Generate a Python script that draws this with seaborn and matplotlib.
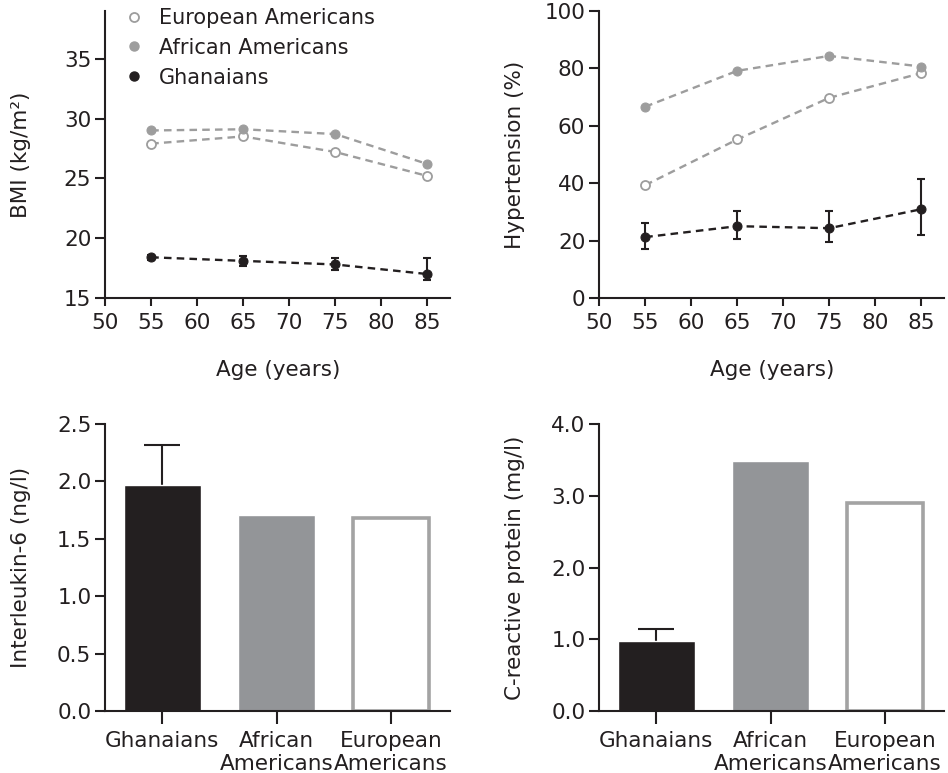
import numpy as np
import seaborn as sns
import matplotlib.pyplot as plt
from matplotlib.lines import Line2D

# data
ages = [55, 65, 75, 85]
groups = ["Ghanaians", "African\nAmericans", "European\nAmericans"]

bmi_european = [27.9, 28.5, 27.2, 25.2]
bmi_african = [29.0, 29.1, 28.7, 26.2]
bmi_ghana = [18.4, 18.1, 17.8, 17.0]
bmi_ghana_lo = [0.2, 0.4, 0.5, 0.5]
bmi_ghana_hi = [0.2, 0.4, 0.5, 1.3]

htn_european = [39.3, 55.2, 69.7, 78.3]
htn_african = [66.6, 79.1, 84.3, 80.6]
htn_ghana = [21.2, 25.0, 24.3, 30.9]
htn_ghana_lo = [4.1, 4.5, 4.9, 8.9]
htn_ghana_hi = [5.0, 5.3, 6.0, 10.5]

il6 = [1.97, 1.71, 1.68]
il6_err = [0.35, 0, 0]
crp = [0.98, 3.49, 2.90]
crp_err = [0.16, 0, 0]

dark = "#231f20"
grey_line = "#9d9d9d"
grey_bar = "#939598"

sns.set_style("ticks")
plt.rcParams["font.family"] = ["DejaVu Sans"]
plt.rcParams.update({
    "font.size": 15.5,
    "text.color": dark,
    "axes.labelcolor": dark,
    "axes.edgecolor": dark,
    "axes.linewidth": 1.5,
    "xtick.color": dark,
    "ytick.color": dark,
    "xtick.labelsize": 15.5,
    "ytick.labelsize": 15.5,
    "xtick.major.width": 1.5,
    "ytick.major.width": 1.5,
    "xtick.major.size": 6,
    "ytick.major.size": 7,
    "xtick.major.pad": 5,
    "ytick.major.pad": 3,
})

fig, axes = plt.subplots(2, 2, figsize=(9.48, 7.73), dpi=100)
plt.subplots_adjust(left=0.111, right=0.996, top=0.986, bottom=0.080, wspace=0.432, hspace=0.439)

dash = (0, (3.2, 2.2))


def line_panel(ax, eu, af, gh, lo, hi):
    sns.lineplot(x=ages, y=eu, ax=ax, color=grey_line, linestyle=dash, lw=1.7, marker="o",
                 markersize=6.5, markerfacecolor="white", markeredgecolor=grey_line, markeredgewidth=1.3)
    sns.lineplot(x=ages, y=af, ax=ax, color=grey_line, linestyle=dash, lw=1.7, marker="o",
                 markersize=6.5, markerfacecolor=grey_line, markeredgecolor=grey_line)
    sns.lineplot(x=ages, y=gh, ax=ax, color=dark, linestyle=dash, lw=1.7, marker="o",
                 markersize=6.5, markerfacecolor=dark, markeredgecolor=dark)
    ax.errorbar(ages, gh, yerr=[lo, hi], fmt="none", ecolor=dark, elinewidth=1.5, capsize=2.8, capthick=1.5)
    ax.set_xlim(50, 87.5)
    ax.set_xticks(range(50, 86, 5))
    ax.set_xlabel("Age (years)")
    ax.xaxis.set_label_coords(0.5, -0.215)
    ax.yaxis.set_label_coords(-0.215, 0.5)


ax = axes[0, 0]
line_panel(ax, bmi_european, bmi_african, bmi_ghana, bmi_ghana_lo, bmi_ghana_hi)
ax.set_ylim(15, 39)
ax.set_yticks(range(15, 36, 5))
ax.set_ylabel("BMI (kg/m²)")
handles = [
    Line2D([], [], ls="none", marker="o", ms=6.5, mfc="white", mec=grey_line, mew=1.3),
    Line2D([], [], ls="none", marker="o", ms=6.5, mfc=grey_line, mec=grey_line),
    Line2D([], [], ls="none", marker="o", ms=6.5, mfc=dark, mec=dark),
]
ax.legend(handles, ["European Americans", "African Americans", "Ghanaians"], loc="upper left",
          bbox_to_anchor=(0.053, 1.01), frameon=False, borderpad=0, borderaxespad=0, fontsize=15,
          handlelength=1.0, handletextpad=0.7, labelspacing=0.47)

ax = axes[0, 1]
line_panel(ax, htn_european, htn_african, htn_ghana, htn_ghana_lo, htn_ghana_hi)
ax.set_ylim(0, 100)
ax.set_yticks(range(0, 101, 20))
ax.set_ylabel("Hypertension (%)")


def bar_panel(ax, vals, errs):
    sns.barplot(x=groups, y=vals, hue=groups, palette=[dark, grey_bar, "white"], legend=False,
                width=0.67, saturation=1, ax=ax, zorder=2)
    eu_bar = ax.patches[2]
    eu_bar.set_edgecolor("#a3a3a3")
    eu_bar.set_linewidth(2.6)
    # only the upper whisker shows; the lower half sits behind the bar
    pos = np.arange(len(vals))
    ax.errorbar(pos[:1], vals[:1], yerr=errs[:1], fmt="none", ecolor=dark,
                elinewidth=1.5, capsize=13, capthick=1.5, zorder=1)
    ax.set_xlim(-0.5, 2.52)
    ax.tick_params(axis="x", length=9)
    ax.yaxis.set_label_coords(-0.215, 0.5)


ax = axes[1, 0]
bar_panel(ax, il6, il6_err)
ax.set_ylim(0, 2.5)
ax.set_yticks(np.arange(0, 2.51, 0.5))
ax.set_yticklabels([f"{v:.1f}" for v in np.arange(0, 2.51, 0.5)])
ax.set_ylabel("Interleukin-6 (ng/l)")

ax = axes[1, 1]
bar_panel(ax, crp, crp_err)
ax.set_ylim(0, 4.0)
ax.set_yticks(np.arange(0, 4.01, 1.0))
ax.set_yticklabels([f"{v:.1f}" for v in np.arange(0, 4.01, 1.0)])
ax.set_ylabel("C-reactive protein (mg/l)")

for ax in axes.flat:
    sns.despine(ax=ax)

plt.savefig("out.png", dpi=100)
